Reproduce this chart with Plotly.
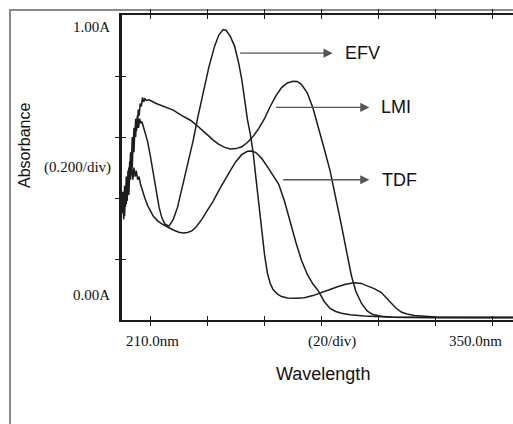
import plotly.graph_objects as go

# ---------------- data ----------------
lmi_nm = [210.0, 210.3, 210.6, 210.9, 211.2, 211.5, 211.8, 212.1, 212.4, 212.7, 213.0, 213.3,
          213.6, 213.9, 214.2, 214.5, 214.8, 215.1, 215.4, 215.7, 216.0, 216.4, 216.8, 217.2,
          217.6, 218.0, 218.6, 219.5, 222, 225, 228, 231, 234, 236, 238, 240, 242, 244, 246,
          248, 250, 252, 254, 256, 258, 260, 262, 264, 266, 268, 270, 271.5, 273, 275, 277,
          279, 281, 283, 285, 287, 289, 290.5, 292, 294, 296, 298, 301, 305, 310, 320, 335, 348]
lmi_abs = [0.36, 0.40, 0.33, 0.42, 0.37, 0.44, 0.39, 0.45, 0.41, 0.48, 0.46, 0.53,
           0.50, 0.58, 0.55, 0.62, 0.60, 0.66, 0.63, 0.69, 0.67, 0.71, 0.70, 0.73,
           0.715, 0.725, 0.72, 0.722, 0.71, 0.70, 0.688, 0.67, 0.655, 0.64, 0.625, 0.607, 0.59, 0.576, 0.566,
           0.561, 0.562, 0.568, 0.582, 0.602, 0.628, 0.66, 0.70, 0.735, 0.762, 0.777, 0.783, 0.782, 0.772, 0.745, 0.695,
           0.63, 0.56, 0.49, 0.405, 0.31, 0.215, 0.145, 0.095, 0.055, 0.03, 0.018, 0.012, 0.009, 0.008, 0.007, 0.007, 0.007]

efv_nm = [210.0, 210.3, 210.6, 210.9, 211.2, 211.5, 211.8, 212.1, 212.4, 212.7, 213.0, 213.3,
          213.6, 213.9, 214.2, 214.5, 214.8, 215.1, 215.4, 215.8, 216.2, 216.6, 217.0, 217.5,
          218, 219, 220, 221, 222, 223, 224, 225, 226.5, 228, 229.5, 231, 233, 235, 236.5, 238,
          239, 240.5, 242.5, 244, 245.5, 246.5, 248, 249.5, 251, 252, 253, 254, 255, 256, 257,
          258, 259, 260, 261, 262, 263, 264.6, 266, 268, 271, 274, 277, 280, 283, 285.6, 288.5,
          291.5, 294, 296, 298.5, 301, 303, 304.6, 306, 308, 310, 312.6, 316, 320, 330, 348]
efv_abs = [0.40, 0.35, 0.41, 0.34, 0.43, 0.38, 0.46, 0.42, 0.50, 0.47, 0.55, 0.52,
           0.60, 0.57, 0.63, 0.60, 0.66, 0.62, 0.67, 0.63, 0.66, 0.645, 0.65, 0.635,
           0.62, 0.585, 0.535, 0.48, 0.42, 0.37, 0.335, 0.315, 0.308, 0.33, 0.37, 0.43, 0.50, 0.59, 0.66, 0.725,
           0.765, 0.83, 0.898, 0.935, 0.952, 0.95, 0.93, 0.898, 0.84, 0.79, 0.725, 0.658, 0.61, 0.55, 0.465,
           0.38, 0.29, 0.215, 0.155, 0.12, 0.10, 0.085, 0.077, 0.072, 0.071, 0.073, 0.08, 0.089, 0.10, 0.109, 0.117,
           0.122, 0.12, 0.112, 0.103, 0.09, 0.07, 0.055, 0.04, 0.026, 0.02, 0.015, 0.012, 0.01, 0.009, 0.009]

tdf_nm = [210.0, 210.3, 210.6, 210.9, 211.2, 211.5, 211.8, 212.1, 212.4, 212.7, 213.0, 213.4,
          213.8, 214.2, 214.6, 215.0, 215.5, 216.0, 216.5, 217.2, 218, 219, 220, 221, 222.5,
          224, 226, 228, 230, 231.5, 233, 234.5, 236, 238, 240, 242, 244, 246, 248, 250, 252,
          254, 255.5, 257, 259, 261, 263, 265, 267, 269, 271, 273, 275, 277, 279, 281, 283,
          285, 287, 290, 295, 303, 320, 348]
tdf_abs = [0.37, 0.42, 0.36, 0.44, 0.39, 0.47, 0.41, 0.49, 0.44, 0.52, 0.47, 0.51,
           0.46, 0.50, 0.47, 0.49, 0.46, 0.47, 0.445, 0.42, 0.40, 0.375, 0.355, 0.34, 0.325,
           0.315, 0.305, 0.295, 0.288, 0.285, 0.287, 0.292, 0.305, 0.33, 0.36, 0.39, 0.425, 0.46, 0.49, 0.52, 0.542,
           0.553, 0.554, 0.549, 0.53, 0.503, 0.475, 0.445, 0.39, 0.32, 0.255, 0.195, 0.15, 0.118, 0.094, 0.06, 0.038,
           0.028, 0.022, 0.017, 0.013, 0.01, 0.008, 0.008]

series = [("EFV", efv_nm, efv_abs), ("LMI", lmi_nm, lmi_abs), ("TDF", tdf_nm, tdf_abs)]

# label arrows: (name, tail_nm, head_nm, absorbance, text_nm)
arrows = [("EFV", 250.9, 283.9, 0.875, 287.7),
          ("LMI", 263.5, 296.8, 0.697, 300.0),
          ("TDF", 266.0, 296.8, 0.460, 300.4)]

x_ticks = [220, 240, 260, 280, 300, 320, 340]
y_ticks = [0.2, 0.4, 0.6, 0.8]

# ---------------- layout geometry ----------------
W, H = 513, 424
L, R, T, B = 122, 0, 15, 104
PW, PH = W - L - R, H - T - B
X0, X1 = 210.0, 210.0 + PW / 2.85
Y0, Y1 = 0.0, 1.0


def px(xp):
    return (xp - L) / PW


def py(yp):
    return (T + PH - yp) / PH


INK = "#1c1c1c"
fig = go.Figure()
for name, xs, ys in series:
    fig.add_trace(go.Scatter(x=xs, y=ys, mode="lines", name=name,
                             line=dict(color=INK, width=1.5), showlegend=False,
                             hoverinfo="skip"))
# dummy trace for overlay axes (crossing ticks)
fig.add_trace(go.Scatter(x=[None], y=[None], xaxis="x2", yaxis="y2", showlegend=False))

ann = []
for name, tail, head, a, tx in arrows:
    ann.append(dict(x=head, y=a, ax=tail, ay=a, xref="x", yref="y", axref="x", ayref="y",
                    text="", showarrow=True, arrowhead=2, arrowsize=1.3, arrowwidth=1.4,
                    arrowcolor="#555555"))
    ann.append(dict(x=tx, y=a, xref="x", yref="y", text=name, showarrow=False,
                    xanchor="left", yanchor="middle",
                    font=dict(family="Liberation Sans, Arial", size=18, color="#111111")))

serif = dict(family="Liberation Serif, Times New Roman", size=15, color="#111111")
ann += [
    dict(x=px(112), y=py(27), xref="paper", yref="paper", text="1.00A", showarrow=False,
         xanchor="right", yanchor="middle", font=serif),
    dict(x=px(113), y=py(167), xref="paper", yref="paper", text="(0.200/div)", showarrow=False,
         xanchor="right", yanchor="middle", font=serif),
    dict(x=px(112), y=py(295), xref="paper", yref="paper", text="0.00A", showarrow=False,
         xanchor="right", yanchor="middle", font=serif),
    dict(x=px(152), y=py(341), xref="paper", yref="paper", text="210.0nm", showarrow=False,
         xanchor="center", yanchor="middle", font=serif),
    dict(x=px(332), y=py(341), xref="paper", yref="paper", text="(20/div)", showarrow=False,
         xanchor="center", yanchor="middle", font=serif),
    dict(x=px(475), y=py(341), xref="paper", yref="paper", text="350.0nm", showarrow=False,
         xanchor="center", yanchor="middle", font=serif),
    dict(x=px(323), y=py(374), xref="paper", yref="paper", text="Wavelength", showarrow=False,
         xanchor="center", yanchor="middle",
         font=dict(family="Liberation Sans, Arial", size=18, color="#111111")),
    dict(x=px(24), y=py(146), xref="paper", yref="paper", text="Absorbance", showarrow=False,
         textangle=-90, xanchor="center", yanchor="middle",
         font=dict(family="Liberation Sans, Arial", size=16, color="#111111")),
]

shapes = [dict(type="rect", xref="paper", yref="paper",
               x0=px(10), x1=px(530), y0=py(440), y1=py(10),
               line=dict(color="#8a8a8a", width=2), layer="below")]

axis_common = dict(showgrid=False, zeroline=False, showticklabels=False)
fig.update_layout(
    width=W, height=H, margin=dict(l=L, r=R, t=T, b=B, pad=0),
    paper_bgcolor="white", plot_bgcolor="white",
    xaxis=dict(range=[X0, X1], tickvals=x_ticks, ticks="outside", ticklen=4, tickwidth=1.3,
               tickcolor=INK, showline=True, linecolor=INK, linewidth=2, mirror="ticks",
               **axis_common),
    yaxis=dict(range=[Y0, Y1], tickvals=y_ticks, ticks="outside", ticklen=4, tickwidth=1.3,
               tickcolor=INK, showline=True, linecolor=INK, linewidth=3, mirror=False,
               **axis_common),
    xaxis2=dict(range=[X0, X1], tickvals=x_ticks, ticks="inside", ticklen=4, tickwidth=1.3,
                tickcolor=INK, showline=False, mirror="ticks", overlaying="x", anchor="y2",
                **axis_common),
    yaxis2=dict(range=[Y0, Y1], tickvals=y_ticks, ticks="inside", ticklen=4, tickwidth=1.3,
                tickcolor=INK, showline=False, overlaying="y", anchor="x2", side="left",
                **axis_common),
    annotations=ann, shapes=shapes,
)

fig.write_html("out.html")
